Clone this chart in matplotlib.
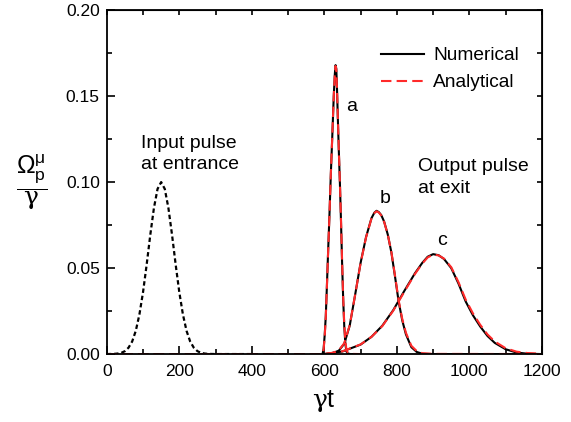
import matplotlib
matplotlib.use('Agg')
import matplotlib.pyplot as plt
from matplotlib.ticker import MultipleLocator, FormatStrFormatter

plt.rcParams['font.family'] = ['Liberation Sans', 'DejaVu Sans']
plt.rcParams['mathtext.fontset'] = 'custom'
plt.rcParams['mathtext.rm'] = 'Liberation Sans'
plt.rcParams['mathtext.it'] = 'Liberation Sans:italic'
plt.rcParams['mathtext.sf'] = 'DejaVu Serif'

# input pulse at entrance (dotted)
in_x = [0, 20, 30, 40, 50, 60, 70, 80, 90, 100, 110, 120, 130, 140, 150,
        160, 170, 180, 190, 200, 210, 220, 230, 240, 250, 260, 270, 280, 300, 400]
in_y = [0.0, 0.0001, 0.0003, 0.0007, 0.0017, 0.0037, 0.0073, 0.0135, 0.0230, 0.0360,
        0.0520, 0.0693, 0.0849, 0.0960, 0.1000, 0.0960, 0.0849, 0.0693, 0.0520, 0.0360,
        0.0230, 0.0135, 0.0073, 0.0037, 0.0017, 0.0007, 0.0003, 0.0001, 0.0, 0.0]

# pulse a
a_x = [595, 598, 601, 604, 607, 610, 614, 618, 622, 626, 629, 631, 633, 635, 637,
       640, 643, 646, 649, 652, 655, 658, 661, 665, 672, 700]
a_num = [0.0, 0.0030, 0.0110, 0.0220, 0.0390, 0.0570, 0.0800, 0.1050, 0.1270, 0.1500,
         0.1630, 0.1680, 0.1660, 0.1540, 0.1390, 0.1180, 0.0990, 0.0770, 0.0530, 0.0320,
         0.0160, 0.0060, 0.0015, 0.0003, 0.0, 0.0]
a_ana = [0.0, 0.0025, 0.0100, 0.0215, 0.0385, 0.0565, 0.0800, 0.1050, 0.1270, 0.1500,
         0.1630, 0.1675, 0.1655, 0.1540, 0.1395, 0.1185, 0.0995, 0.0780, 0.0540, 0.0330,
         0.0175, 0.0075, 0.0025, 0.0008, 0.0001, 0.0]

# pulse b
b_x = [600, 620, 640, 655, 670, 685, 700, 715, 730, 738, 744, 750, 757, 765, 775,
       785, 795, 805, 815, 825, 840, 855, 870, 900, 1200]
b_num = [0.0, 0.0003, 0.0020, 0.0060, 0.0165, 0.0345, 0.0530, 0.0680, 0.0790, 0.0822,
         0.0833, 0.0826, 0.0808, 0.0770, 0.0695, 0.0590, 0.0450, 0.0305, 0.0195, 0.0115,
         0.0040, 0.0012, 0.0002, 0.0, 0.0]
b_ana = [0.0, 0.0004, 0.0022, 0.0063, 0.0168, 0.0345, 0.0528, 0.0678, 0.0788, 0.0820,
         0.0830, 0.0824, 0.0806, 0.0768, 0.0695, 0.0592, 0.0455, 0.0312, 0.0203, 0.0124,
         0.0048, 0.0017, 0.0005, 0.0001, 0.0]

# pulse c
c_x = [600, 650, 700, 730, 760, 790, 820, 850, 870, 885, 900, 915, 930, 950, 970,
       990, 1010, 1030, 1050, 1070, 1100, 1130, 1160, 1200]
c_num = [0.0, 0.0015, 0.0055, 0.0100, 0.0165, 0.0255, 0.0365, 0.0470, 0.0530, 0.0566,
         0.0581, 0.0575, 0.0553, 0.0500, 0.0410, 0.0305, 0.0225, 0.0160, 0.0105, 0.0065,
         0.0028, 0.0009, 0.0002, 0.0]
c_ana = [0.0, 0.0016, 0.0056, 0.0100, 0.0163, 0.0252, 0.0360, 0.0466, 0.0526, 0.0562,
         0.0578, 0.0574, 0.0555, 0.0505, 0.0418, 0.0316, 0.0236, 0.0170, 0.0114, 0.0073,
         0.0034, 0.0014, 0.0006, 0.0002]

fig = plt.figure(figsize=(5.71, 4.22), dpi=100)
ax = fig.add_axes([0.187, 0.161, 0.762, 0.815])

red = '#ff2a2a'
dash = (0, (5, 2.5))

ax.plot(in_x, in_y, color='black', lw=1.6, linestyle=(0, (2, 1.3)))
ax.plot(a_x, a_num, color='black', lw=1.5, label='Numerical')
ax.plot(b_x, b_num, color='black', lw=1.5)
ax.plot(c_x, c_num, color='black', lw=1.5)
ax.plot([0] + a_x, [0.0] + a_ana, color=red, lw=1.5, linestyle=dash, label='Analytical')
ax.plot([0] + b_x, [0.0] + b_ana, color=red, lw=1.5, linestyle=dash)
ax.plot([0] + c_x, [0.0] + c_ana, color=red, lw=1.5, linestyle=dash)

ax.set_xlim(0, 1200)
ax.set_ylim(0, 0.20)
ax.xaxis.set_major_locator(MultipleLocator(200))
ax.xaxis.set_minor_locator(MultipleLocator(100))
ax.yaxis.set_major_locator(MultipleLocator(0.05))
ax.yaxis.set_minor_locator(MultipleLocator(0.025))
ax.yaxis.set_major_formatter(FormatStrFormatter('%.2f'))
ax.tick_params(which='both', direction='in', width=1.2, labelsize=12.5)
ax.tick_params(which='major', length=6)
ax.tick_params(which='minor', length=3.5)
ax.tick_params(axis='x', which='major', pad=7)
ax.tick_params(axis='y', which='major', pad=5)
for s in ax.spines.values():
    s.set_linewidth(1.3)

top = ax.secondary_xaxis('top')
top.set_xticks(list(range(0, 1201, 100)))
top.tick_params(direction='in', length=3.5, width=1.2, labeltop=False)
right = ax.secondary_yaxis('right')
right.set_yticks([0.025 * i for i in range(9)])
right.tick_params(direction='in', length=3.5, width=1.2, labelright=False)

ax.set_xlabel(r'$\mathsf{\gamma}$t', fontsize=18)
ax.xaxis.set_label_coords(0.5, -0.1)
ax.set_ylabel(r'$\dfrac{\Omega_{\mathrm{p}}^{\mathrm{\mu}}}{\mathsf{\gamma}}$', fontsize=18,
              rotation=0, va='center', ha='center')
ax.yaxis.set_label_coords(-0.172, 0.5)

ax.text(94, 0.1275, 'Input pulse\nat entrance', fontsize=14, va='top', ha='left',
        linespacing=1.35)
ax.text(859, 0.114, 'Output pulse\nat exit', fontsize=14, va='top', ha='left',
        linespacing=1.35)
ax.text(675, 0.1437, 'a', fontsize=14, va='center', ha='center')
ax.text(767, 0.0906, 'b', fontsize=14, va='center', ha='center')
ax.text(925, 0.0662, 'c', fontsize=14, va='center', ha='center')

ax.legend(loc='upper right', bbox_to_anchor=(0.965, 0.915), frameon=False,
          fontsize=13.8, handlelength=2.2, handletextpad=0.5, labelspacing=0.5,
          borderaxespad=0)

fig.savefig('out.png', dpi=100)
